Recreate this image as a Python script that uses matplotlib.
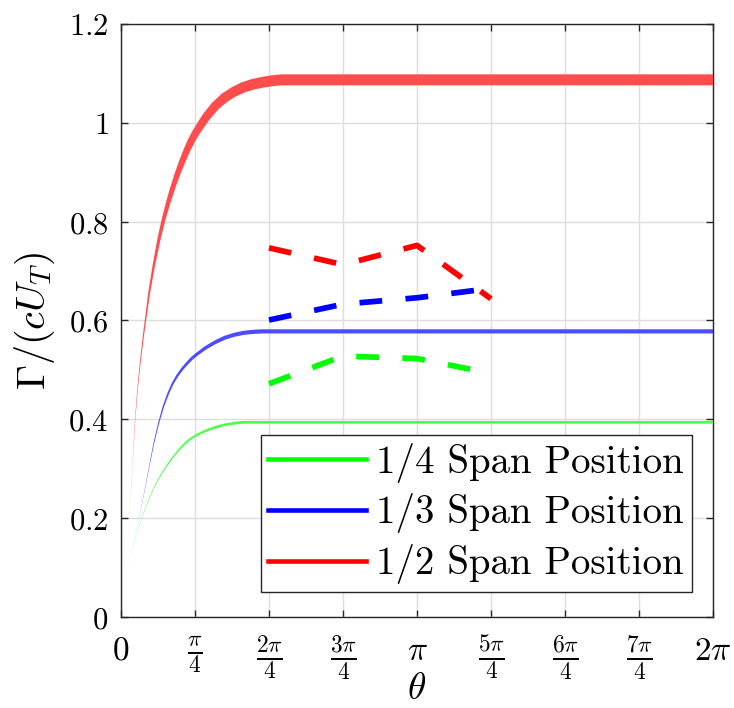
import numpy as np
import matplotlib
matplotlib.use("Agg")
import matplotlib.pyplot as plt
from matplotlib.patches import Polygon
from matplotlib.transforms import IdentityTransform
from matplotlib.lines import Line2D

plt.rcParams['mathtext.fontset'] = 'cm'

# ---------------- data ----------------
theta_green = [0.05, 0.10, 0.15, 0.20, 0.25, 0.30, 0.35, 0.40, 0.45, 0.50, 0.55, 0.60,
               0.65, 0.70, 0.75, 0.80, 0.90, 1.00, 1.10, 1.20, 1.30, 2 * np.pi]
gamma_green = [0.085, 0.12, 0.155, 0.188, 0.215, 0.24, 0.262, 0.28, 0.296, 0.31, 0.323, 0.335,
               0.346, 0.355, 0.362, 0.368, 0.377, 0.384, 0.389, 0.392, 0.394, 0.394]

theta_blue = [0.05, 0.10, 0.15, 0.20, 0.25, 0.30, 0.35, 0.40, 0.45, 0.50, 0.55, 0.60,
              0.65, 0.70, 0.75, 0.80, 0.90, 1.00, 1.10, 1.20, 1.30, 1.40, 1.50, 2 * np.pi]
gamma_blue = [0.09, 0.13, 0.167, 0.207, 0.255, 0.305, 0.353, 0.393, 0.426, 0.452, 0.473, 0.489,
              0.502, 0.513, 0.523, 0.531, 0.545, 0.556, 0.565, 0.571, 0.575, 0.577, 0.578, 0.578]

theta_red = [0.05, 0.07, 0.09, 0.12, 0.15, 0.18, 0.21, 0.24, 0.27, 0.30, 0.35, 0.40, 0.45,
             0.50, 0.55, 0.60, 0.65, 0.70, 0.75, 0.80, 0.90, 1.00, 1.10, 1.20, 1.30, 1.40,
             1.50, 1.60, 1.70, 2 * np.pi]
gamma_red = [0.09, 0.15, 0.20, 0.30, 0.40, 0.47, 0.525, 0.572, 0.615, 0.657, 0.713, 0.762, 0.803,
             0.838, 0.869, 0.897, 0.922, 0.945, 0.965, 0.982, 1.011, 1.034, 1.051, 1.063, 1.072,
             1.078, 1.082, 1.085, 1.087, 1.087]

theta_dash = [2 * np.pi / 4, 3 * np.pi / 4, np.pi, 5 * np.pi / 4]
dash_green = [0.472, 0.528, 0.523, 0.493]
dash_blue = [0.601, 0.633, 0.646, 0.665]
dash_red = [0.747, 0.713, 0.752, 0.644]

labels = ['1/4 Span Position', '1/3 Span Position', '1/2 Span Position']
xtick_labels = [r'$0$', r'$\frac{\pi}{4}$', r'$\frac{2\pi}{4}$', r'$\frac{3\pi}{4}$', r'$\pi$',
                r'$\frac{5\pi}{4}$', r'$\frac{6\pi}{4}$', r'$\frac{7\pi}{4}$', r'$2\pi$']
ytick_labels = [r'$0$', r'$0.2$', r'$0.4$', r'$0.6$', r'$0.8$', r'$1$', r'$1.2$']

# ---------------- figure ----------------
fig = plt.figure(figsize=(7.34, 7.08), dpi=100)
ax = fig.add_axes([121 / 734, 91 / 708, 592 / 734, 593 / 708])
ax.set_xlim(0, 2 * np.pi)
ax.set_ylim(0, 1.2)


def ribbon(x, y, color, wmax_px, expo=3.5):
    """Variable-width line drawn as a filled polygon in pixel space."""
    x = np.asarray(x, float)
    y = np.asarray(y, float)
    P = ax.transData.transform(np.column_stack([x, y]))
    T = np.zeros_like(P)
    T[1:-1] = P[2:] - P[:-2]
    T[0] = P[1] - P[0]
    T[-1] = P[-1] - P[-2]
    T /= np.linalg.norm(T, axis=1)[:, None]
    N = np.column_stack([-T[:, 1], T[:, 0]])
    w = wmax_px * (y / y.max()) ** expo
    upper = P + N * (w[:, None] / 2)
    lower = P - N * (w[:, None] / 2)
    poly = np.vstack([upper, lower[::-1]])
    patch = Polygon(poly, closed=True, transform=IdentityTransform(), facecolor=color,
                    edgecolor='none', lw=0, antialiased=True, zorder=3)
    ax.add_artist(patch)
    patch.set_clip_box(ax.bbox)


ribbon(theta_green, gamma_green, (0.3, 1.0, 0.3), 2.8)
ribbon(theta_blue, gamma_blue, (0.3, 0.3, 1.0), 4.2)
ribbon(theta_red, gamma_red, (1.0, 0.3, 0.3), 11.0)

for yv, c in [(dash_green, (0, 1, 0)), (dash_blue, (0, 0, 1)), (dash_red, (1, 0, 0))]:
    ax.plot(theta_dash, yv, color=c, lw=4.1, dashes=(4.0, 4.1), dash_capstyle='butt',
            zorder=4)

ax.set_xticks([k * np.pi / 4 for k in range(9)])
ax.set_xticklabels(xtick_labels)
ax.set_yticks([0, 0.2, 0.4, 0.6, 0.8, 1.0, 1.2])
ax.set_yticklabels(ytick_labels)

ax.grid(True, color='#dedede', lw=1.0, zorder=0)
ax.set_axisbelow(True)
ax.tick_params(direction='in', length=5, width=1.0, top=True, right=True,
               colors='#262626', labelcolor='black')
ax.tick_params(axis='x', labelsize=24, pad=12)
ax.tick_params(axis='y', labelsize=22, pad=9)
for s in ax.spines.values():
    s.set_color('#262626')
    s.set_linewidth(1.0)

ax.set_xlabel(r'$\theta$', fontsize=27)
ax.xaxis.set_label_coords(0.5, -0.091)
ax.set_ylabel(r'$\Gamma/(cU_T)$', fontsize=29, labelpad=8)

handles = [Line2D([], [], color=c, lw=3.3) for c in [(0, 1, 0), (0, 0, 1), (1, 0, 0)]]
leg = ax.legend(handles, labels, loc='lower right', bbox_to_anchor=(0.9645, 0.042),
                borderaxespad=0, prop={'family': 'cmr10', 'size': 28},
                handlelength=2.52, handletextpad=0.26, borderpad=0.2,
                labelspacing=0.28, fancybox=False, framealpha=1, edgecolor='#262626')
leg.get_frame().set_linewidth(1.0)
leg.set_zorder(10)

fig.savefig('out.png', dpi=100)
